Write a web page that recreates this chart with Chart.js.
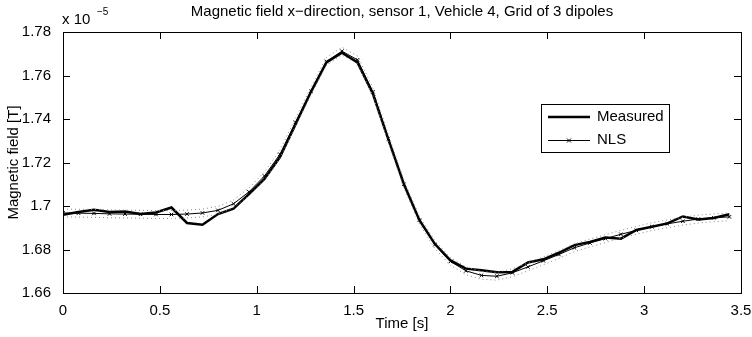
<!DOCTYPE html>
<html>
<head>
<meta charset="utf-8">
<script src="https://cdn.jsdelivr.net/npm/chart.js@4"></script>
<style>
  html, body { margin: 0; padding: 0; background: #fff; }
  #wrap { position: relative; width: 752px; height: 337px; }
</style>
</head>
<body>
<div id="wrap"><canvas id="c" width="752" height="337"></canvas></div>
<script>
// time samples [s]
const timeS = [0.00, 0.08, 0.16, 0.24, 0.32, 0.40, 0.48, 0.56, 0.64, 0.72, 0.80, 0.88, 0.96, 1.04, 1.12,
  1.20, 1.28, 1.36, 1.44, 1.52, 1.60, 1.68, 1.76, 1.84, 1.92, 2.00, 2.08, 2.16, 2.24, 2.32, 2.40, 2.48,
  2.56, 2.64, 2.72, 2.80, 2.88, 2.96, 3.04, 3.12, 3.20, 3.28, 3.36, 3.44];

// values in units of 1e-5 T
const measured = [1.6960, 1.6972, 1.6983, 1.6972, 1.6975, 1.6963, 1.6970, 1.6993, 1.6922, 1.6914, 1.6963,
  1.6988, 1.7055, 1.7125, 1.7225, 1.7375, 1.7525, 1.7660, 1.7705, 1.7660, 1.7515, 1.7305, 1.7100,
  1.6935, 1.6825, 1.6750, 1.6712, 1.6705, 1.6695, 1.6697, 1.6740, 1.6755, 1.6785, 1.6820, 1.6835,
  1.6855, 1.6850, 1.6890, 1.6905, 1.6920, 1.6952, 1.6938, 1.6945, 1.6962];

const nls = [1.6968, 1.6967, 1.6966, 1.6964, 1.6963, 1.6962, 1.6961, 1.6961, 1.6963, 1.6968, 1.6980,
  1.7010, 1.7065, 1.7138, 1.7238, 1.7385, 1.7528, 1.7665, 1.7712, 1.7672, 1.7525, 1.7310, 1.7100,
  1.6935, 1.6822, 1.6745, 1.6702, 1.6681, 1.6677, 1.6693, 1.6720, 1.6748, 1.6777, 1.6808, 1.6830,
  1.6850, 1.6870, 1.6888, 1.6905, 1.6918, 1.6930, 1.6940, 1.6946, 1.6950];

// dotted bounds around the fit
const nlsUpper = [1.6986, 1.6985, 1.6984, 1.6982, 1.6981, 1.6980, 1.6979, 1.6979, 1.6981, 1.6986, 1.6998,
  1.7028, 1.7083, 1.7156, 1.7256, 1.7403, 1.7546, 1.7683, 1.7730, 1.7690, 1.7543, 1.7328, 1.7118,
  1.6953, 1.6840, 1.6763, 1.6720, 1.6699, 1.6695, 1.6711, 1.6738, 1.6766, 1.6795, 1.6826, 1.6848,
  1.6868, 1.6888, 1.6906, 1.6923, 1.6936, 1.6948, 1.6958, 1.6964, 1.6968];
const nlsLower = [1.6950, 1.6949, 1.6948, 1.6946, 1.6945, 1.6944, 1.6943, 1.6943, 1.6945, 1.6950, 1.6962,
  1.6992, 1.7047, 1.7120, 1.7220, 1.7367, 1.7510, 1.7647, 1.7694, 1.7654, 1.7507, 1.7292, 1.7082,
  1.6917, 1.6804, 1.6727, 1.6684, 1.6663, 1.6659, 1.6675, 1.6702, 1.6730, 1.6759, 1.6790, 1.6812,
  1.6832, 1.6852, 1.6870, 1.6887, 1.6900, 1.6912, 1.6922, 1.6928, 1.6932];

const xTicks = [0, 0.5, 1, 1.5, 2, 2.5, 3, 3.5];
const yTicks = [1.66, 1.68, 1.70, 1.72, 1.74, 1.76, 1.78];

const titleText = 'Magnetic field x\u2212direction, sensor 1, Vehicle 4, Grid of 3 dipoles';
const FONT = '"Liberation Sans", Arial, Helvetica, sans-serif';
const FS = 15;

const pts = arr => arr.map((v, i) => ({ x: timeS[i], y: v }));

// frame, inward ticks, labels and legend, matlab style
const matlabDecor = {
  id: 'matlabDecor',
  afterDraw(chart) {
    const { ctx, chartArea: a, scales } = chart;
    ctx.save();
    ctx.strokeStyle = '#000';
    ctx.lineWidth = 1;
    ctx.strokeRect(Math.round(a.left) + 0.5, Math.round(a.top) + 0.5,
      Math.round(a.right - a.left), Math.round(a.bottom - a.top));
    const tl = 7;
    ctx.beginPath();
    xTicks.forEach(v => {
      const x = Math.round(scales.x.getPixelForValue(v)) + 0.5;
      ctx.moveTo(x, a.bottom); ctx.lineTo(x, a.bottom - tl);
      ctx.moveTo(x, a.top); ctx.lineTo(x, a.top + tl);
    });
    yTicks.forEach(v => {
      const y = Math.round(scales.y.getPixelForValue(v)) + 0.5;
      ctx.moveTo(a.left, y); ctx.lineTo(a.left + tl, y);
      ctx.moveTo(a.right, y); ctx.lineTo(a.right - tl, y);
    });
    ctx.stroke();

    ctx.fillStyle = '#000';
    ctx.font = FS + 'px ' + FONT;
    ctx.textAlign = 'center';
    ctx.textBaseline = 'middle';
    ctx.fillText(titleText, (a.left + a.right) / 2, 12);
    ctx.fillText('Time [s]', (a.left + a.right) / 2, 324);

    ctx.save();
    ctx.translate(14, (a.top + a.bottom) / 2);
    ctx.rotate(-Math.PI / 2);
    ctx.fillText('Magnetic field [T]', 0, 0);
    ctx.restore();

    // exponent label
    ctx.textAlign = 'left';
    ctx.fillText('x 10', 62, 20);
    ctx.font = '10px ' + FONT;
    ctx.fillText('\u22125', 97, 12);

    // legend
    const lx = 541, ly = 104, lw = 128, lh = 48;
    ctx.fillStyle = '#fff';
    ctx.fillRect(lx, ly, lw, lh);
    ctx.strokeRect(lx + 0.5, ly + 0.5, lw, lh);
    ctx.beginPath();
    ctx.lineWidth = 2.5;
    ctx.moveTo(548, 117); ctx.lineTo(590, 117);
    ctx.stroke();
    ctx.beginPath();
    ctx.lineWidth = 1;
    ctx.moveTo(548, 140.5); ctx.lineTo(590, 140.5);
    ctx.moveTo(567, 138.5); ctx.lineTo(571, 142.5);
    ctx.moveTo(571, 138.5); ctx.lineTo(567, 142.5);
    ctx.stroke();
    ctx.fillStyle = '#000';
    ctx.font = FS + 'px ' + FONT;
    ctx.textAlign = 'left';
    ctx.fillText('Measured', 597, 117);
    ctx.fillText('NLS', 597, 140);
    ctx.restore();
  }
};

new Chart(document.getElementById('c'), {
  type: 'line',
  data: {
    datasets: [
      { label: 'upper', data: pts(nlsUpper), borderColor: '#888', borderWidth: 1, borderDash: [1, 3],
        pointRadius: 0, tension: 0 },
      { label: 'lower', data: pts(nlsLower), borderColor: '#888', borderWidth: 1, borderDash: [1, 3],
        pointRadius: 0, tension: 0 },
      { label: 'NLS', data: pts(nls), borderColor: '#000', borderWidth: 1, pointStyle: 'crossRot',
        pointRadius: 2.5, pointBorderWidth: 1, pointBorderColor: '#000', tension: 0 },
      { label: 'Measured', data: pts(measured), borderColor: '#000', borderWidth: 2.5,
        pointRadius: 0, tension: 0 }
    ]
  },
  options: {
    responsive: false,
    animation: false,
    layout: { autoPadding: false, padding: { top: 32, right: 11, left: 0, bottom: 0 } },
    plugins: { legend: { display: false }, title: { display: false }, tooltip: { enabled: false } },
    scales: {
      x: {
        type: 'linear', min: 0, max: 3.5,
        afterBuildTicks: s => { s.ticks = xTicks.map(v => ({ value: v })); },
        afterFit: s => { s.height = 44; s.paddingLeft = 0; s.paddingRight = 0; },
        grid: { display: false }, border: { display: false },
        ticks: { color: '#000', font: { family: FONT, size: FS }, padding: 1, maxRotation: 0,
          callback: v => String(+v.toFixed(2)) }
      },
      y: {
        type: 'linear', min: 1.66, max: 1.78,
        afterBuildTicks: s => { s.ticks = yTicks.map(v => ({ value: v })); },
        afterFit: s => { s.width = 63; s.paddingTop = 0; s.paddingBottom = 0; },
        grid: { display: false }, border: { display: false },
        ticks: { color: '#000', font: { family: FONT, size: FS }, padding: 4,
          callback: v => String(+v.toFixed(2)) }
      }
    }
  },
  plugins: [matlabDecor]
});
</script>
</body>
</html>
